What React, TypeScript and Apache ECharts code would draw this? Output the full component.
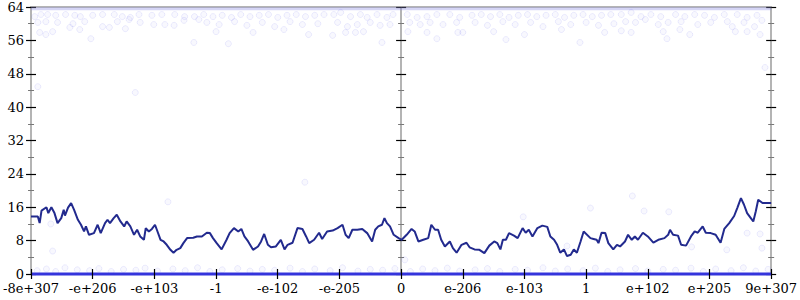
import React, { useEffect, useRef } from "react";
import * as echarts from "echarts";

// x positions are in label-index units (0 = "-8e+307", 6 = "0", 12 = "9e+307")
const xTickLabels = ["-8e+307", "-e+206", "-e+103", "-1", "-e-102", "-e-205", "0", "e-206", "e-103", "1", "e+102", "e+205", "9e+307"];
const yTicks = { min: 0, max: 64, step: 8 };

const avgLine: [number, number][] = [
  [0, 13.8], [0.11, 13.8], [0.14, 12.2], [0.17, 15.2], [0.25, 16], [0.28, 14.6], [0.33, 16], [0.38, 14.6], [0.43, 12.2], [0.49, 13.4],
  [0.53, 15.4], [0.55, 14], [0.6, 15.9], [0.65, 17], [0.7, 15.3], [0.76, 13], [0.81, 11.8], [0.86, 10.2], [0.89, 11.4], [0.94, 9.4],
  [1.02, 9.8], [1.08, 11.8], [1.13, 9.8], [1.2, 12.2], [1.24, 13], [1.28, 12.2], [1.34, 13.4], [1.39, 14.2], [1.45, 12.6], [1.51, 11.4],
  [1.55, 12.6], [1.61, 11.4], [1.67, 9.4], [1.72, 10.6], [1.77, 9], [1.83, 8.2], [1.86, 11], [1.91, 10.2], [1.96, 10.8], [2.01, 11.8],
  [2.04, 10.6], [2.1, 8.2], [2.15, 7.8], [2.2, 7], [2.26, 5.8], [2.31, 5.1], [2.36, 5.8], [2.42, 6.2], [2.47, 7.4], [2.53, 8.6],
  [2.63, 8.7], [2.69, 9], [2.77, 9], [2.85, 9.9], [2.9, 9.8], [2.95, 8.6], [3.01, 7.4], [3.09, 5.9], [3.17, 8.2], [3.22, 9.8],
  [3.29, 11], [3.36, 10.2], [3.41, 10.8], [3.46, 9], [3.52, 7.8], [3.6, 5.8], [3.68, 6.6], [3.73, 7.8], [3.78, 9.6], [3.84, 7],
  [3.89, 6.4], [3.97, 6.6], [4.05, 8.2], [4.11, 5.9], [4.16, 7], [4.24, 7.5], [4.32, 11], [4.4, 10.8], [4.46, 9], [4.51, 7.4],
  [4.59, 8.2], [4.67, 9.9], [4.72, 8.4], [4.8, 10.2], [4.89, 10.4], [4.97, 11], [5.05, 11.8], [5.1, 9.4], [5.15, 8.6], [5.21, 10.6],
  [5.29, 10.6], [5.37, 10.8], [5.45, 9.8], [5.53, 7.8], [5.58, 10.6], [5.63, 11.4], [5.69, 11.8], [5.73, 13.4], [5.77, 12.2], [5.82, 11.4],
  [5.88, 9.4], [5.96, 8.6], [6.01, 8.2], [6.09, 9.4], [6.17, 10.8], [6.22, 10.2], [6.28, 7.8], [6.36, 8.2], [6.44, 8.6], [6.49, 11.8],
  [6.55, 10.6], [6.6, 10.6], [6.65, 8.2], [6.71, 6.6], [6.79, 7.8], [6.84, 6.2], [6.9, 5.1], [6.98, 7], [7.06, 7.5], [7.11, 6.4],
  [7.19, 5.9], [7.27, 5.8], [7.35, 5], [7.43, 6.8], [7.51, 7.8], [7.56, 7.4], [7.61, 5.9], [7.65, 8.2], [7.7, 8.2], [7.75, 9.8],
  [7.83, 9.2], [7.89, 8.6], [7.97, 11], [8.02, 9.9], [8.07, 10.6], [8.13, 9], [8.21, 11], [8.29, 11.6], [8.37, 11.3], [8.42, 9],
  [8.48, 8.2], [8.53, 7], [8.58, 5.1], [8.64, 5.9], [8.69, 4.3], [8.75, 4.6], [8.8, 5.9], [8.85, 5.1], [8.91, 7.8], [8.96, 10.2],
  [9.07, 8.6], [9.12, 8.4], [9.17, 8.2], [9.2, 7.4], [9.25, 9.9], [9.31, 9.8], [9.36, 7.4], [9.44, 5.9], [9.5, 7], [9.55, 6.6],
  [9.63, 7.8], [9.68, 9.4], [9.74, 8.2], [9.79, 9], [9.84, 8.2], [9.92, 9.9], [10.0, 9], [10.09, 7.5], [10.17, 8.2], [10.27, 8.6],
  [10.33, 9.4], [10.36, 10.6], [10.41, 9.4], [10.49, 9.2], [10.54, 7], [10.62, 6.8], [10.7, 9], [10.76, 10.2], [10.81, 9.9], [10.89, 11.4],
  [10.94, 9.9], [11.02, 9.8], [11.1, 9.4], [11.18, 7.5], [11.24, 10.8], [11.32, 12.2], [11.4, 13.9], [11.45, 15.8], [11.51, 18.2], [11.56, 16.6],
  [11.61, 14.6], [11.67, 13.4], [11.71, 12.6], [11.75, 15], [11.79, 17.8], [11.86, 17], [12, 17],
];

const topPoints: [number, number][] = [
  [0.06, 61.7], [0.16, 62.2], [0.27, 62.2], [0.4, 62], [0.56, 62.2], [0.71, 62], [0.8, 61.7], [1.0, 62], [1.16, 62.2], [1.35, 62.2],
  [1.48, 61.7], [1.61, 61.5], [1.75, 62.2], [1.96, 62], [2.12, 62.2], [2.33, 62.2], [2.49, 61.7], [2.65, 61.7],
  [0.11, 60.3], [0.24, 60.5], [0.43, 60.3], [0.68, 60], [0.87, 60.5], [1.16, 59.3], [1.4, 60.5], [1.59, 61], [1.77, 60.3], [1.99, 59.8],
  [2.17, 59.8], [2.32, 59.6], [2.48, 60.8], [2.72, 61], [0.14, 57.9], [0.24, 57.4], [0.35, 58.1], [0.63, 59.1], [0.79, 58.6], [0.97, 56.4],
  [1.27, 59.1], [1.53, 58.8], [2.64, 55.5], [0.11, 44.9], [1.69, 43.5],
  [2.8, 62.2], [2.95, 61.7], [3.1, 62], [3.25, 61.5], [3.4, 62.2], [3.55, 61.7], [3.7, 62], [3.85, 62.2], [4.0, 61.5], [4.15, 62],
  [4.3, 62.2], [4.45, 61.7], [4.6, 62], [4.75, 62.2], [2.85, 60.3], [3.05, 59.8], [3.3, 60.5], [3.5, 59.6], [3.75, 60.3], [3.95, 59.3],
  [4.2, 60.5], [4.4, 59.8], [4.65, 60], [3.0, 58.1], [3.6, 57.9], [4.1, 58.6], [4.5, 57.4], [3.2, 55.2],
  [4.91, 62.2], [5.02, 62.7], [5.18, 61.7], [5.34, 62.2], [5.45, 61.5], [5.61, 62.2], [5.77, 61.5], [5.87, 62.2], [6.1, 62.2], [6.26, 61.5],
  [6.42, 61.7], [6.58, 62.2], [6.79, 62.2], [6.95, 61.5], [4.97, 60.3], [5.13, 59.3], [5.29, 59.8], [5.5, 60.3], [5.66, 59.6], [5.82, 59.8],
  [6.14, 60.3], [6.31, 59.8], [6.47, 60.3], [6.68, 59.8], [6.9, 60.3], [5.1, 57.9], [5.26, 57.9], [5.39, 58.1], [6.11, 58.1], [6.42, 57.9],
  [6.92, 57.9], [4.89, 57.2], [5.69, 55.5], [6.58, 56.4], [7.0, 57.9],
  [7.15, 62], [7.3, 62.2], [7.45, 61.7], [7.6, 62.2], [7.75, 61.5], [7.9, 62], [8.05, 62.2], [8.2, 61.7], [8.35, 62], [8.5, 62.2],
  [8.65, 61.5], [8.8, 62], [8.95, 62.2], [9.1, 61.7], [9.25, 62], [9.4, 62.2], [7.2, 60.3], [7.4, 59.6], [7.65, 60.5], [7.85, 59.8],
  [8.1, 60.3], [8.3, 59.3], [8.55, 60.5], [8.75, 59.8], [9.0, 60.3], [9.2, 59.6], [9.45, 60], [7.5, 58.1], [8.0, 57.4], [8.6, 58.6],
  [9.3, 57.9], [7.7, 56.2], [8.9, 55.5],
  [9.57, 62.2], [9.73, 62.7], [9.89, 61.7], [10.05, 62.2], [10.21, 61.7], [10.45, 62.2], [10.6, 61.7], [10.76, 62.2], [10.92, 62], [11.08, 61.5],
  [11.24, 62.2], [11.45, 62.2], [11.61, 61.5], [11.77, 62], [9.64, 60.5], [9.8, 60.3], [9.96, 61], [10.17, 59.8], [10.33, 60.3], [10.54, 60.5],
  [10.81, 59.8], [11.02, 60.3], [11.29, 60.5], [11.37, 59.3], [11.56, 60.3], [11.73, 59.3], [11.85, 60.8], [9.57, 58.3], [9.73, 57.9],
  [10.25, 58.1], [10.52, 58.6], [10.68, 57.4], [10.31, 56.4], [11.42, 58.1], [11.61, 58.1], [11.82, 57.4], [11.9, 49.5],
];

const lowPoints: [number, number][] = [
  [0.1, 0.8], [0.25, 1.2], [0.4, 0.6], [0.55, 1.5], [0.75, 1.0], [0.95, 0.8], [1.1, 1.3], [1.3, 0.6], [1.5, 1.1], [1.7, 0.9],
  [1.85, 1.4], [2.05, 0.7], [2.3, 1.2], [2.5, 0.8], [2.7, 1.5], [2.9, 0.6], [3.1, 1.0], [3.35, 1.3], [3.55, 0.7], [3.75, 1.1],
  [3.95, 0.9], [4.2, 1.4], [4.4, 0.6], [4.6, 1.2], [4.85, 0.8], [5.05, 1.5], [5.3, 0.7], [5.5, 1.1], [5.7, 0.9], [5.9, 1.3],
  [6.15, 0.6], [6.35, 1.2], [6.55, 0.8], [6.75, 1.4], [6.95, 0.7], [7.2, 1.0], [7.4, 1.3], [7.6, 0.6], [7.85, 1.1], [8.05, 0.9],
  [8.3, 1.5], [8.5, 0.7], [8.7, 1.2], [8.95, 0.8], [9.15, 1.4], [9.35, 0.6], [9.55, 1.0], [9.8, 1.3], [10.0, 0.7], [10.25, 1.1],
  [10.45, 0.9], [10.7, 1.4], [10.9, 0.6], [11.1, 1.2], [11.35, 0.8], [11.55, 1.5], [11.75, 0.7], [11.95, 1.1],
  [0.32, 12], [0.35, 5.5], [2.22, 17.3], [4.44, 22], [6.06, 3.4], [7.98, 13.7], [8.69, 6.7], [9.07, 15.8], [9.75, 18.7], [9.94, 15.1],
  [10.34, 14.9], [10.71, 6.5], [11.28, 5.8], [11.61, 9.8], [11.82, 9.6], [11.85, 6.2],
];

const topBand: [number, number][] = [[0, 63.6], [12, 63.6]];
const zeroBand: [number, number][] = [[0, 0], [12, 0]];

const CENTER = 6;
const shift = (pts: [number, number][]) => pts.map(([x, y]) => [x - CENTER, y]);

const FONT = "DejaVu Serif";
const AXIS_GRAY = "#b4b4b4";

function yAxisDef(position: "left" | "right", onZero: boolean, inside: boolean, lineVisible: boolean, showLabel: boolean) {
  return {
    type: "value",
    position,
    min: yTicks.min,
    max: yTicks.max,
    interval: yTicks.step,
    z: 1,
    axisLine: { show: true, onZero, lineStyle: { color: lineVisible ? AXIS_GRAY : "rgba(0,0,0,0)", width: 2 } },
    axisTick: { show: true, inside, length: 5, lineStyle: { color: "#000", width: 1.2 } },
    minorTick: { show: true, splitNumber: 2, length: 3, lineStyle: { color: "#777", width: 1 } },
    axisLabel: { show: showLabel, margin: 7, color: "#000", fontFamily: FONT, fontSize: 13 },
    splitLine: { show: false },
  };
}

function xAxisDef(position: "bottom" | "top", inside: boolean, showLine: boolean, showLabel: boolean, showTick: boolean) {
  return {
    type: "value",
    position,
    min: -CENTER,
    max: CENTER,
    interval: 1,
    z: 10,
    axisLine: { show: showLine, onZero: false, lineStyle: { color: AXIS_GRAY, width: 2 } },
    axisTick: { show: showTick, inside, length: 5, lineStyle: { color: "#000", width: 1.2 } },
    axisLabel: {
      show: showLabel,
      margin: 8,
      color: "#000",
      fontFamily: FONT,
      fontSize: 13,
      formatter: (v: number) => xTickLabels[Math.round(v) + CENTER] ?? "",
    },
    splitLine: { show: false },
  };
}

export default function App() {
  const ref = useRef<HTMLDivElement>(null);
  useEffect(() => {
    if (!ref.current) return;
    const chart = echarts.init(ref.current, undefined, { renderer: "svg" });
    const ptStyle = {
      color: "rgba(110,110,240,0.06)",
      borderColor: "rgba(100,100,235,0.14)",
      borderWidth: 1,
    };
    chart.setOption({
      animation: false,
      backgroundColor: "#fff",
      grid: { left: 28, right: 26, top: 7, bottom: 26, containLabel: false },
      xAxis: [
        xAxisDef("bottom", false, false, true, true),
        xAxisDef("bottom", true, false, false, true),
        { ...xAxisDef("top", false, true, false, false), z: 1 },
      ],
      yAxis: [
        yAxisDef("left", false, false, true, true),
        yAxisDef("left", false, true, false, false),
        yAxisDef("left", true, false, true, false),
        yAxisDef("left", true, true, false, false),
        yAxisDef("right", false, false, true, false),
        yAxisDef("right", false, true, false, false),
      ],
      series: [
        {
          type: "line",
          data: shift(topBand),
          showSymbol: false,
          clip: false,
          lineStyle: { color: "rgba(150,150,230,0.4)", width: 3 },
          silent: true,
          z: 2,
        },
        {
          type: "scatter",
          data: shift(topPoints),
          symbolSize: 6,
          itemStyle: ptStyle,
          silent: true,
          z: 2,
        },
        {
          type: "scatter",
          data: shift(lowPoints),
          symbolSize: 6,
          itemStyle: ptStyle,
          silent: true,
          z: 2,
        },
        {
          type: "line",
          data: shift(zeroBand),
          showSymbol: false,
          clip: false,
          lineStyle: { color: "#3434dc", width: 3 },
          silent: true,
          z: 3,
        },
        {
          type: "line",
          data: shift(avgLine),
          showSymbol: false,
          lineStyle: { color: "#222a8e", width: 2 },
          silent: true,
          z: 4,
        },
      ],
    });
    return () => chart.dispose();
  }, []);
  return <div ref={ref} style={{ width: 800, height: 300, position: "absolute", left: 0, top: 0 }} />;
}
